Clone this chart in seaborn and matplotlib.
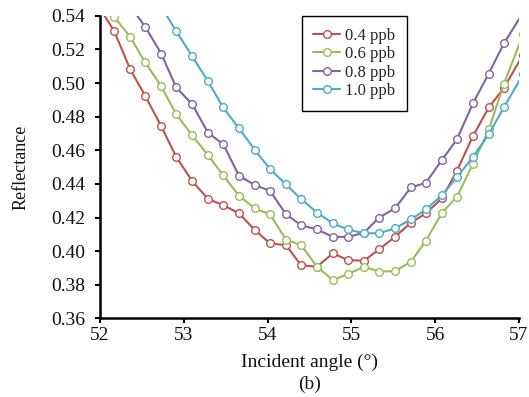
import pandas as pd
import seaborn as sns
import matplotlib.pyplot as plt
from matplotlib.ticker import FormatStrFormatter

# incident angle (deg), shared scan grid
angle = [51.98, 52.17, 52.36, 52.54, 52.73, 52.91, 53.10, 53.29, 53.47, 53.66,
         53.85, 54.03, 54.22, 54.40, 54.59, 54.78, 54.96, 55.15, 55.33, 55.52,
         55.71, 55.89, 56.08, 56.26, 56.45, 56.64, 56.82, 57.05]

refl_04 = [0.546, 0.5309, 0.5083, 0.4924, 0.4744, 0.4561, 0.4417, 0.4310, 0.4274, 0.4225,
           0.4125, 0.4046, 0.4036, 0.3916, 0.3908, 0.3987, 0.3947, 0.3943, 0.4010, 0.4085,
           0.4169, 0.4225, 0.4314, 0.4478, 0.4684, 0.4855, 0.4971, 0.517]
refl_06 = [0.553, 0.5394, 0.5275, 0.5123, 0.4982, 0.4815, 0.4689, 0.4571, 0.4452, 0.4329,
           0.4254, 0.4219, 0.4068, 0.4037, 0.3907, 0.3828, 0.3864, 0.3907, 0.3879, 0.3881,
           0.3937, 0.4062, 0.4228, 0.4323, 0.4518, 0.4724, 0.4995, 0.529]
refl_08 = [0.546, 0.5335, 0.5176, 0.4974, 0.4875, 0.4704, 0.4637, 0.4448, 0.4393, 0.4359,
           0.4219, 0.4155, 0.4129, 0.4085, 0.4085, 0.4109, 0.4200, 0.4254, 0.4379, 0.4407,
           0.4542, 0.4665, 0.4879, 0.5057, 0.5236, 0.542]
refl_10 = [0.5455, 0.5309, 0.5160, 0.5010, 0.4855, 0.4730, 0.4601, 0.4488, 0.4397, 0.4310,
           0.4230, 0.4165, 0.4129, 0.4106, 0.4107, 0.4135, 0.4189, 0.4248, 0.4333, 0.4439,
           0.4561, 0.4696, 0.4855, 0.5053]

labels = ["0.4 ppb", "0.6 ppb", "0.8 ppb", "1.0 ppb"]
colors = ["#C0504D", "#9BBB59", "#8064A2", "#4BACC6"]

frames = []
for lab, ys in zip(labels, [refl_04, refl_06, refl_08, refl_10]):
    xs = angle[len(angle) - len(ys):]
    frames.append(pd.DataFrame({"angle": xs, "refl": ys, "conc": lab}))
df = pd.concat(frames, ignore_index=True)

sns.set_theme(style="ticks")
plt.rcParams["font.family"] = ["Liberation Serif", "DejaVu Serif"]

fig = plt.figure(figsize=(5.29, 3.97), dpi=100)
ax = fig.add_axes([0.189, 0.198, 0.792, 0.762])

sns.lineplot(data=df, x="angle", y="refl", hue="conc", hue_order=labels,
             palette=colors, marker="o", markersize=5.5,
             markeredgewidth=1.0, linewidth=1.5, estimator=None, sort=False,
             legend=False, ax=ax)
# seaborn paints marker edges white by default -> open circles in line colour
for ln in ax.lines:
    ln.set_markerfacecolor("white")
    ln.set_markeredgecolor(ln.get_color())

ax.set_xlim(52, 57)
ax.set_ylim(0.36, 0.54)
ax.set_xticks([52, 53, 54, 55, 56, 57])
ax.set_yticks([0.36, 0.38, 0.40, 0.42, 0.44, 0.46, 0.48, 0.50, 0.52, 0.54])
ax.yaxis.set_major_formatter(FormatStrFormatter("%.2f"))
ax.tick_params(axis="both", labelsize=14, width=1.5, length=3.5, color="black",
               labelcolor="#111111", direction="out")
ax.tick_params(axis="y", pad=7)
ax.tick_params(axis="x", pad=3)

sns.despine(ax=ax)
for side in ["left", "bottom"]:
    ax.spines[side].set_linewidth(1.8)
    ax.spines[side].set_color("black")

ax.set_xlabel("Incident angle (°)", fontsize=14, labelpad=7, color="#111111")
ax.set_ylabel("Reflectance", fontsize=13, labelpad=16, color="#111111")
fig.text(0.586, 0.031, "(b)", ha="center", va="center", fontsize=14, color="#111111")

leg = ax.legend(handles=ax.lines[:4], labels=labels, loc="upper left",
                bbox_to_anchor=(0.481, 1.0), fontsize=12, frameon=True,
                fancybox=False, edgecolor="black", framealpha=1,
                handlelength=1.6, handletextpad=0.3, labelspacing=0.15,
                borderpad=0.7, borderaxespad=0)
leg.get_frame().set_linewidth(1.0)

fig.savefig("out.png", dpi=100)
